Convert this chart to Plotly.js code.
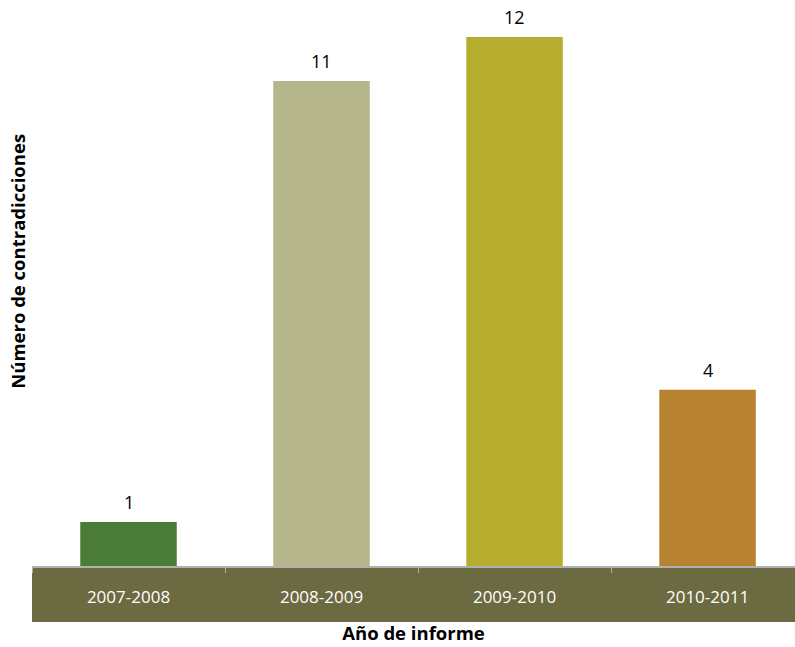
<!DOCTYPE html>
<html>
<head>
<meta charset="utf-8">
<script src="https://cdn.plot.ly/plotly-3.0.1.min.js"></script>
<style>html,body{margin:0;padding:0;background:#fff;}#chart{width:795px;height:647px;}</style>
</head>
<body>
<div id="chart"></div>
<script>
const categories = ["2007-2008", "2008-2009", "2009-2010", "2010-2011"];
const values = [1, 11, 12, 4];
const barColors = ["#4a7c37", "#b5b68b", "#b6ad2f", "#b88331"];
const xTitle = "Año de informe";
const yTitle = "Número de contradicciones";

const trace = {
  type: "bar",
  x: categories,
  y: values,
  marker: {color: barColors, line: {width: 0}},
  width: 0.5,
  cliponaxis: false,
  hoverinfo: "none"
};

const valueLabels = categories.map((c, i) => ({
  x: c, y: values[i], xref: "x", yref: "y",
  text: String(values[i]), showarrow: false,
  xanchor: "center", yanchor: "bottom", yshift: 6,
  font: {family: "Open Sans, sans-serif", size: 18, color: "#000"}
}));

const layout = {
  width: 795, height: 647,
  margin: {l: 32, r: 0, t: 0, b: 81},
  paper_bgcolor: "#fff", plot_bgcolor: "#fff",
  showlegend: false,
  bargap: 0.5,
  xaxis: {
    type: "category",
    range: [-0.5, 3.453],
    showline: true, linecolor: "#b0b0b0", linewidth: 1.5,
    ticks: "outside", tickson: "boundaries", ticklen: 5, tickcolor: "#b0b0b0",
    tickfont: {family: "Open Sans, sans-serif", size: 17, color: "#ffffff"},
    ticklabelstandoff: 15,
    showgrid: false, zeroline: false,
    title: {text: xTitle, font: {family: "Open Sans, sans-serif", size: 18.5, color: "#000", weight: "bold"}, standoff: 20}
  },
  yaxis: {
    range: [0, 12.84],
    visible: false, showgrid: false, zeroline: false, fixedrange: true
  },
  shapes: [{
    type: "rect", xref: "paper", yref: "paper",
    x0: 0, x1: 1.02, y0: -0.0989, y1: 0,
    fillcolor: "#6c6a40", line: {width: 0}, layer: "below"
  }],
  annotations: valueLabels.concat([{
    text: yTitle, xref: "paper", yref: "paper",
    x: -0.0185, y: 0.539, xanchor: "center", yanchor: "middle",
    textangle: -90, showarrow: false,
    font: {family: "Open Sans, sans-serif", size: 18.5, color: "#000", weight: "bold"}
  }])
};

Plotly.newPlot("chart", [trace], layout, {staticPlot: true, displayModeBar: false});
</script>
</body>
</html>
